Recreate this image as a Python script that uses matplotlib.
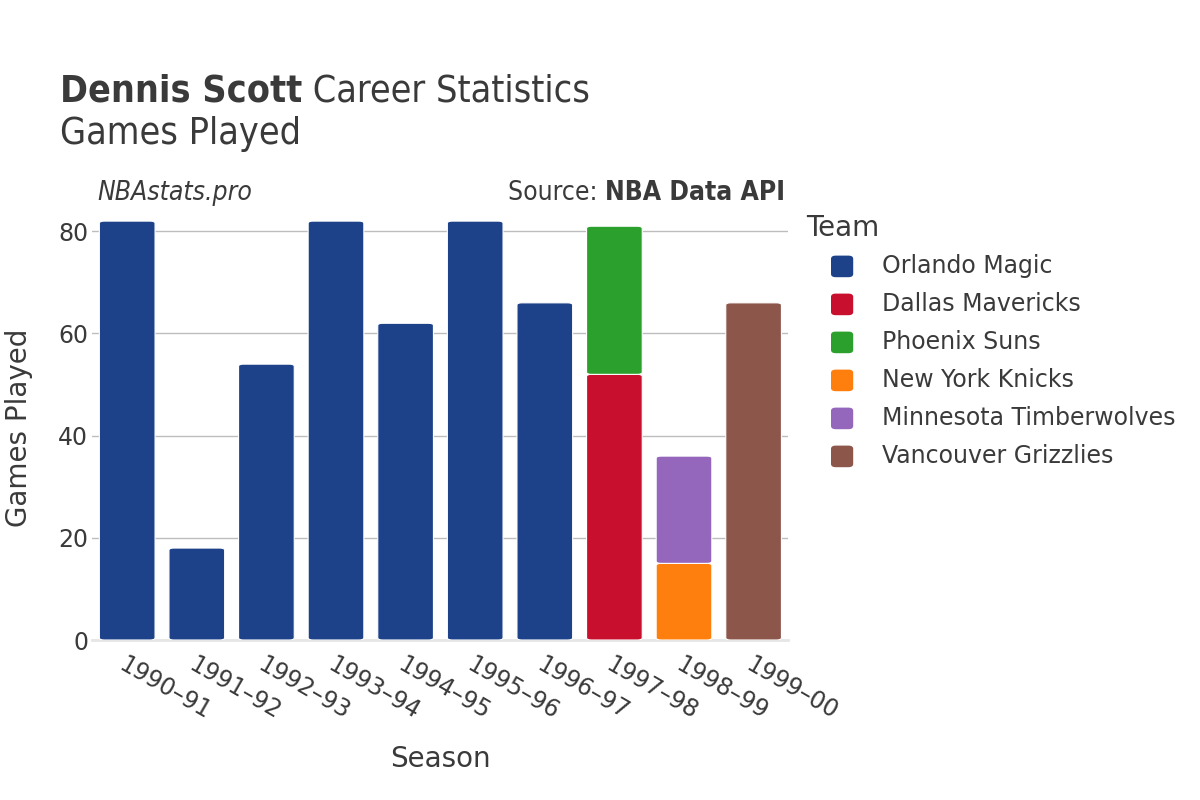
import matplotlib.pyplot as plt
from matplotlib.patches import FancyBboxPatch
import numpy as np

plt.rcParams['font.family'] = ['DejaVu Sans']

# Data
seasons = ["1990–91", "1991–92", "1992–93", "1993–94", "1994–95",
           "1995–96", "1996–97", "1997–98", "1998–99", "1999–00"]
teams = ["Orlando Magic", "Dallas Mavericks", "Phoenix Suns",
         "New York Knicks", "Minnesota Timberwolves", "Vancouver Grizzlies"]
team_colors = ["#1d428a", "#c8102e", "#2ca02c", "#ff7f0e", "#9467bd", "#8c564b"]

# games per team, per season (stack order bottom -> top)
orlando = [82, 18, 54, 82, 62, 82, 66, 0, 0, 0]
dallas = [0, 0, 0, 0, 0, 0, 0, 52, 0, 0]
phoenix = [0, 0, 0, 0, 0, 0, 0, 29, 0, 0]
knicks = [0, 0, 0, 0, 0, 0, 0, 0, 15, 0]
minnesota = [0, 0, 0, 0, 0, 0, 0, 0, 21, 0]
vancouver = [0, 0, 0, 0, 0, 0, 0, 0, 0, 66]
series = [orlando, dallas, phoenix, knicks, minnesota, vancouver]

text_col = "#3a3a3a"

fig = plt.figure(figsize=(12, 8), dpi=100)
ax = fig.add_axes([0.077, 0.2, 0.58, 0.53])

x = np.arange(len(seasons))
width = 0.8
bottom = np.zeros(len(seasons))
for vals, col in zip(series, team_colors):
    vals = np.array(vals, dtype=float)
    for xi, b, v in zip(x, bottom, vals):
        if v <= 0:
            continue
        # rounded bar segment
        p = FancyBboxPatch((xi - width / 2, b), width, v,
                           boxstyle="round,pad=0,rounding_size=0.07",
                           mutation_aspect=6, facecolor=col,
                           edgecolor="white", linewidth=0.8, zorder=3)
        ax.add_patch(p)
    bottom += vals

ax.set_xlim(-0.5, len(seasons) - 0.5)
ax.set_ylim(0, 83)
ax.set_yticks([0, 20, 40, 60, 80])
ax.yaxis.grid(True, color="#bdbdbd", linewidth=1, zorder=0)
ax.set_axisbelow(True)
for s in ["top", "right", "left"]:
    ax.spines[s].set_visible(False)
ax.spines["bottom"].set_color("#e6e6e6")
ax.spines["bottom"].set_linewidth(2)
ax.tick_params(axis="both", length=0, labelsize=17, colors=text_col)
ax.tick_params(axis="y", pad=3)
ax.tick_params(axis="x", pad=9)
ax.set_xticks(x)
ax.set_xticklabels(seasons, rotation=-30, ha="left", rotation_mode="anchor")
ax.set_xlabel("Season", fontsize=20, color=text_col, labelpad=15)
ax.set_ylabel("Games Played", fontsize=20, color=text_col, labelpad=18)

# titles
r = fig.canvas.get_renderer()
t1 = fig.text(0.05, 0.8725, "Dennis Scott", fontsize=27, fontweight="bold",
              fontstretch="condensed", color=text_col, va="baseline")
bb = t1.get_window_extent(renderer=r)
fig.text(bb.x1 / fig.bbox.width, 0.8725, " Career Statistics", fontsize=27,
         fontstretch="condensed", color=text_col, va="baseline")
fig.text(0.05, 0.82, "Games Played", fontsize=27, fontstretch="condensed",
         color=text_col, va="baseline")
fig.text(0.081, 0.75, "NBAstats.pro", fontsize=19, style="italic",
         fontstretch="condensed", color=text_col, va="baseline")
src = fig.text(0.654, 0.75, "NBA Data API", fontsize=19, fontweight="bold",
               fontstretch="condensed", color=text_col, ha="right",
               va="baseline")
bb = src.get_window_extent(renderer=r)
fig.text(bb.x0 / fig.bbox.width, 0.75, "Source: ", fontsize=19,
         fontstretch="condensed", color=text_col, ha="right", va="baseline")

# legend drawn by hand: rounded swatch + label per team
fig.text(0.672, 0.705, "Team", fontsize=20, color=text_col, va="baseline")
row_y = 0.667
for name, col in zip(teams, team_colors):
    sw = FancyBboxPatch((0.6925, row_y - 0.0135), 0.0185, 0.027,
                        boxstyle="round,pad=0,rounding_size=0.004",
                        transform=fig.transFigure, facecolor=col,
                        edgecolor="none")
    fig.patches.append(sw)
    fig.text(0.735, row_y, name, fontsize=17, color=text_col, va="center")
    row_y -= 0.0475

fig.savefig("out.png", dpi=100)
